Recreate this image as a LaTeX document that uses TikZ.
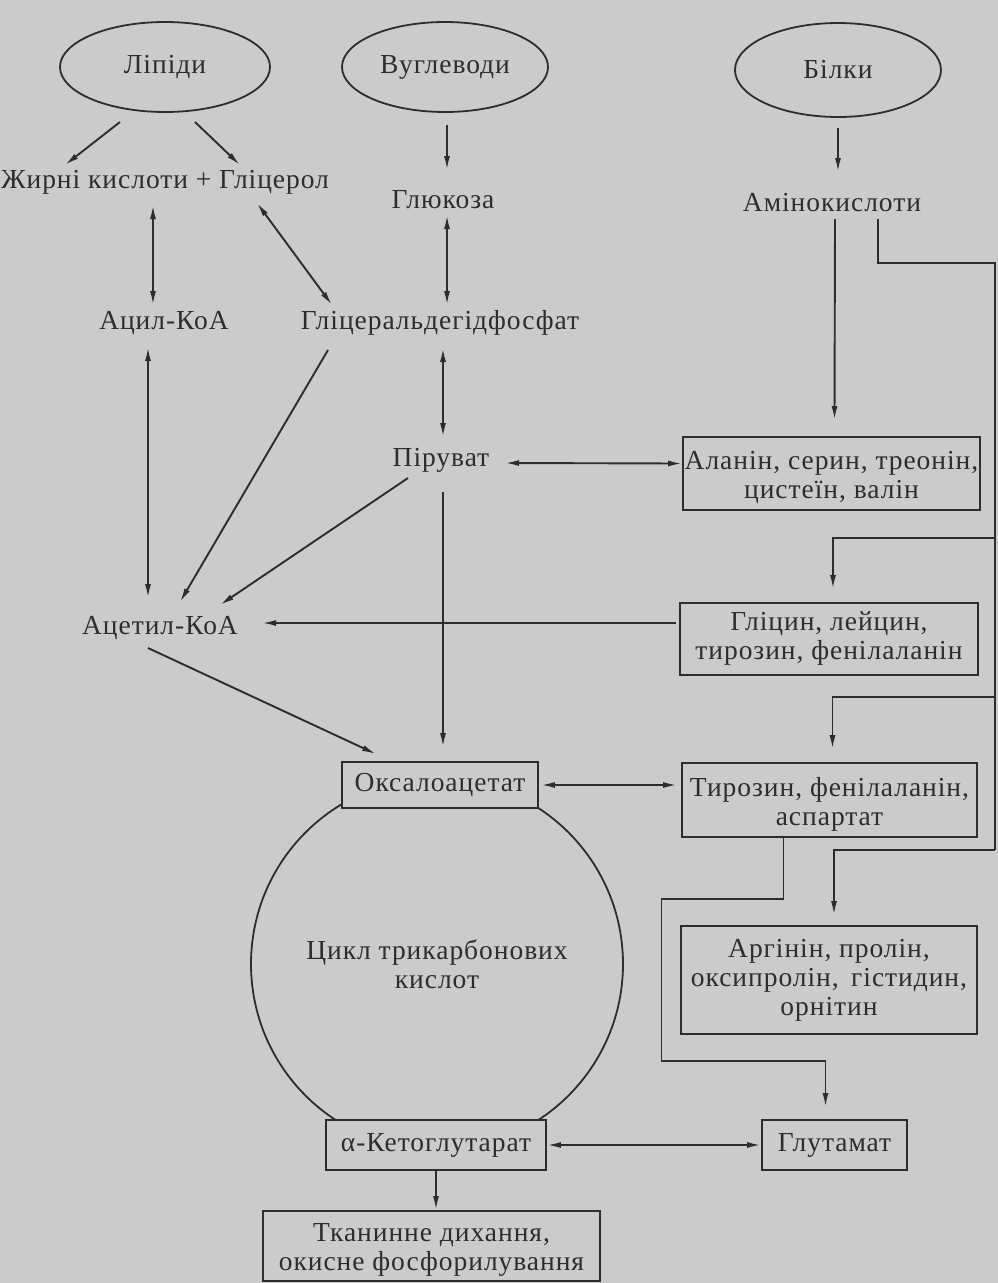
\documentclass[tikz,border=0pt]{standalone}
\usepackage{fontspec}
\setmainfont{Liberation Serif}[LetterSpace=3.5]
\usetikzlibrary{arrows.meta,calc,shapes.geometric}
\definecolor{paper}{RGB}{203,203,203}
\definecolor{ink}{RGB}{45,45,45}
\begin{document}
\begin{tikzpicture}[x=1pt,y=-1pt,
  txt/.style={text=ink, inner sep=0pt, font=\fontsize{27.5}{29}\selectfont},
  oval/.style={txt, ellipse, draw=ink, line width=1.8pt},
  box/.style={txt, rectangle, draw=ink, line width=1.9pt, fill=paper, align=center},
  link/.style={draw=ink, line width=1.9pt, -{Latex[length=14pt,width=6pt]}},
  both/.style={draw=ink, line width=1.9pt, {Latex[length=14pt,width=6pt]}-{Latex[length=14pt,width=6pt]}},
  wire/.style={draw=ink, line width=1.9pt}
]
\fill[paper] (0,0) rectangle (998,1283);
\useasboundingbox (0,0) rectangle (998,1283);

% sources
\node[oval, minimum width=210pt, minimum height=90pt] (lip) at (165,67) {Ліпіди};
\node[oval, minimum width=206pt, minimum height=90pt] (carb) at (445,67) {Вуглеводи};
\node[oval, minimum width=206pt, minimum height=94pt] (prot) at (838,70) {Білки};

% intermediates
\node[txt] (fa) at (165,182) {Жирні кислоти + Гліцерол};
\node[txt] (glc) at (443,200) {Глюкоза};
\node[txt] (amino) at (832,203) {Амінокислоти};
\node[txt] (acyl) at (164,323) {Ацил-КоА};
\node[txt] (gap) at (440,323) {Гліцеральдегідфосфат};
\node[txt] (pyr) at (441,460) {Піруват};
\node[txt] (acetyl) at (160,628) {Ацетил-КоА};

% the cycle, drawn under the boxes
\node[txt, circle, draw=ink, line width=1.8pt, minimum size=372pt, align=center] (tca) at (437,964) {Цикл трикарбонових\\кислот};

% boxes
\node[box, minimum width=297pt, minimum height=73pt] (ala) at (831.5,473.5) {\rule{0pt}{27pt}Аланін, серин, треонін,\\цистеїн, валін};
\node[box, minimum width=298pt, minimum height=72pt] (gly) at (829,639) {Гліцин, лейцин,\\тирозин, фенілаланін};
\node[box, minimum width=196pt, minimum height=46pt] (oxalo) at (440,785) {Оксалоацетат};
\node[box, minimum width=295pt, minimum height=74pt] (tyr) at (829.5,800) {\rule{0pt}{27pt}Тирозин, фенілаланін,\\аспартат};
\node[box, minimum width=296pt, minimum height=108pt] (arg) at (829,980) {Аргінін, пролін,\\оксипролін,\, гістидин,\\орнітин};
\node[box, minimum width=220pt, minimum height=50pt] (akg) at (436,1145) {α-Кетоглутарат};
\node[box, minimum width=145pt, minimum height=50pt] (glu) at (834.5,1145) {Глутамат};
\node[box, minimum width=337pt, minimum height=70pt] (resp) at (431.5,1246) {\rule{0pt}{25pt}Тканинне дихання,\\окисне фосфорилування};

% connectors
\draw[link] ($(lip)+(-45,55)$) -- ($(fa)+(-100,-17)$);
\draw[link] ($(lip)+(30,55)$) -- ($(fa)+(75,-17)$);
\draw[link] ($(carb)+(2,58)$) -- ($(glc)+(4,-30)$);
\draw[link] ($(prot)+(0,58)$) -- ($(amino)+(6,-31)$);
\draw[both] ($(fa)+(-12,23)$) -- ($(acyl)+(-11,-18)$);
\draw[both] ($(fa)+(92,21)$) -- ($(gap)+(-108,-18)$);
\draw[both] ($(glc)+(4,15)$) -- ($(gap)+(7,-18)$);
\draw[both] ($(gap)+(3,25)$) -- ($(pyr)+(2,-23)$);
\draw[link] ($(gap)+(-112,27)$) -- ($(acetyl)+(20,-26)$);
\draw[link] ($(pyr)+(-33,18)$) -- ($(acetyl)+(60,-23)$);
\draw[both] ($(acyl)+(-16,24)$) -- ($(acetyl)+(-12,-30)$);
\draw[link] ($(gly.west)+(-3,-16)$) -- ($(acetyl)+(102,-5)$);
\draw[link] ($(pyr)+(2,32)$) -- ($(oxalo.north)+(3,-14)$);
\draw[link] ($(acetyl)+(-12,20)$) -- ($(oxalo.north west)+(35,-7)$);
\draw[both] ($(pyr)+(64,3)$) -- ($(ala.west)+(0,-10)$);
\draw[link] ($(amino)+(3,16)$) -- ($(ala.north)+(3,-16)$);

% amino-acid rail on the right
\coordinate (railtop) at (995,263);
\coordinate (rgly) at (995,538);
\coordinate (rtyr) at (995,697);
\coordinate (rarg) at (995,850);
\draw[wire] ($(amino)+(46,16)$) |- (railtop) -- (rarg);
\draw[link] (rarg) -| ($(arg.north)+(5,-10)$);
\draw[link] (rgly) -| ($(gly.north)+(4,-13)$);
\draw[link] (rtyr) -| ($(tyr.north)+(3,-13)$);

\draw[both] ($(oxalo.east)+(2,0)$) -- ($(tyr.west)+(-4,-15)$);
\draw[link] ($(tyr.south)+(-46,0)$) -- ++(0,61) -- ++(-122,0) -- ++(0,162) -| ($(glu.north)+(-9,-12)$);
\draw[both] (akg.east) -- (glu.west);
\draw[link] (akg.south) -- (akg.south |- resp.north);
\end{tikzpicture}
\end{document}
